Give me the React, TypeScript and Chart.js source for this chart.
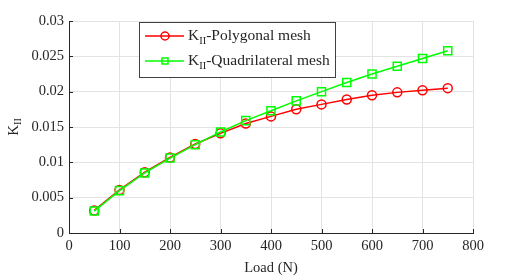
import React, { useEffect, useRef } from "react";
import { Chart, registerables } from "chart.js";

Chart.register(...registerables);

const loads = [50, 100, 150, 200, 250, 300, 350, 400, 450, 500, 550, 600, 650, 700, 750];
const polygonal = [0.0032, 0.0061, 0.0086, 0.0107, 0.0126, 0.0141, 0.0155, 0.0165, 0.0175, 0.0182, 0.0189, 0.0195, 0.0199, 0.0202, 0.0205];
const quadrilateral = [0.0031, 0.006, 0.0085, 0.0106, 0.0125, 0.0143, 0.0159, 0.0173, 0.0187, 0.02, 0.0213, 0.0225, 0.0236, 0.0247, 0.0258];
const xTitle = "Load (N)";
const legendLabels = ["-Polygonal mesh", "-Quadrilateral mesh"];

const FONT = "'Liberation Serif', 'Times New Roman', serif";
const TXT = "#262626";

const extras = {
  id: "extras",
  afterDraw(chart: any) {
    const ctx = chart.ctx;
    const a = chart.chartArea;
    const xs = chart.scales.x;
    const ys = chart.scales.y;
    ctx.save();
    // inner ticks
    ctx.strokeStyle = TXT;
    ctx.lineWidth = 1;
    ctx.beginPath();
    xs.ticks.forEach((t: any) => {
      const px = Math.round(xs.getPixelForValue(t.value)) + 0.5;
      ctx.moveTo(px, a.bottom);
      ctx.lineTo(px, a.bottom - 4);
    });
    ys.ticks.forEach((t: any) => {
      const py = Math.round(ys.getPixelForValue(t.value)) + 0.5;
      ctx.moveTo(a.left, py);
      ctx.lineTo(a.left + 4, py);
    });
    ctx.stroke();

    // x title
    ctx.fillStyle = TXT;
    ctx.font = `14.5px ${FONT}`;
    ctx.textAlign = "center";
    ctx.textBaseline = "middle";
    ctx.fillText(xTitle, (a.left + a.right) / 2, 268);

    // y title K_II rotated
    ctx.save();
    ctx.translate(13, (a.top + a.bottom) / 2);
    ctx.rotate(-Math.PI / 2);
    ctx.textAlign = "left";
    ctx.textBaseline = "alphabetic";
    ctx.font = `15px ${FONT}`;
    const wK = ctx.measureText("K").width;
    ctx.font = `10px ${FONT}`;
    const wII = ctx.measureText("II").width;
    const start = -(wK + wII) / 2;
    ctx.font = `15px ${FONT}`;
    ctx.fillText("K", start, 5);
    ctx.font = `10px ${FONT}`;
    ctx.fillText("II", start + wK, 8);
    ctx.restore();

    // legend
    const bx = 139.5, by = 22.5, bw = 196, bh = 55;
    ctx.fillStyle = "#ffffff";
    ctx.fillRect(bx, by, bw, bh);
    ctx.strokeStyle = "#404040";
    ctx.lineWidth = 1;
    ctx.strokeRect(bx, by, bw, bh);
    const rows = [
      { color: "#ff0000", style: "circle", y: 36 },
      { color: "#00ff00", style: "rect", y: 61 },
    ];
    rows.forEach((r, i) => {
      ctx.strokeStyle = r.color;
      ctx.lineWidth = 1.5;
      ctx.beginPath();
      ctx.moveTo(145, r.y);
      ctx.lineTo(184, r.y);
      ctx.stroke();
      ctx.beginPath();
      if (r.style === "circle") {
        ctx.arc(165, r.y, 4, 0, Math.PI * 2);
      } else {
        ctx.rect(162, r.y - 3, 6, 6);
      }
      ctx.stroke();
      ctx.fillStyle = TXT;
      ctx.textAlign = "left";
      ctx.textBaseline = "alphabetic";
      ctx.font = `15.5px ${FONT}`;
      let x = 188;
      ctx.fillText("K", x, r.y + 4);
      x += ctx.measureText("K").width;
      ctx.font = `10.5px ${FONT}`;
      ctx.fillText("II", x, r.y + 8);
      x += ctx.measureText("II").width;
      ctx.font = `15.5px ${FONT}`;
      ctx.fillText(legendLabels[i], x, r.y + 4);
    });
    ctx.restore();
  },
};

export default function App() {
  const ref = useRef<HTMLCanvasElement | null>(null);
  useEffect(() => {
    if (!ref.current) return;
    const chart = new Chart(ref.current, {
      type: "line",
      data: {
        datasets: [
          {
            label: "Polygonal",
            data: loads.map((x, i) => ({ x, y: polygonal[i] })),
            borderColor: "#ff0000",
            backgroundColor: "rgba(0,0,0,0)",
            borderWidth: 1.5,
            pointStyle: "circle",
            pointRadius: 4.5,
            pointBorderWidth: 1.5,
            order: 1,
          },
          {
            label: "Quadrilateral",
            data: loads.map((x, i) => ({ x, y: quadrilateral[i] })),
            borderColor: "#00ff00",
            backgroundColor: "rgba(0,0,0,0)",
            borderWidth: 1.5,
            pointStyle: "rect",
            pointRadius: 5.7,
            pointBorderWidth: 1.5,
            order: 0,
          },
        ],
      },
      options: {
        animation: false,
        responsive: false,
        devicePixelRatio: 1,
        layout: { padding: { left: 0, top: 21, right: 51, bottom: 0 } },
        plugins: { legend: { display: false }, tooltip: { enabled: false } },
        scales: {
          x: {
            type: "linear",
            min: 0,
            max: 800,
            ticks: { stepSize: 100, color: TXT, font: { family: FONT, size: 14.5 }, padding: 4, maxRotation: 0 },
            grid: { color: "#e3e3e3", drawTicks: false },
            border: { color: TXT, width: 1 },
            afterFit: (s: any) => { s.height = 45; },
          },
          y: {
            type: "linear",
            min: 0,
            max: 0.03,
            ticks: {
              stepSize: 0.005,
              color: TXT,
              font: { family: FONT, size: 14.5 },
              padding: 5,
              callback: (v: any) => String(Number(v.toFixed(3))),
            },
            grid: { color: "#e3e3e3", drawTicks: false },
            border: { color: TXT, width: 1 },
            afterFit: (s: any) => { s.width = 69; },
          },
        },
      },
      plugins: [extras],
    } as any);
    return () => chart.destroy();
  }, []);
  return (
    <div style={{ position: "fixed", left: 0, top: 0, width: 524, height: 278, background: "#fff" }}>
      <canvas ref={ref} width={524} height={278} style={{ width: 524, height: 278 }} />
    </div>
  );
}
